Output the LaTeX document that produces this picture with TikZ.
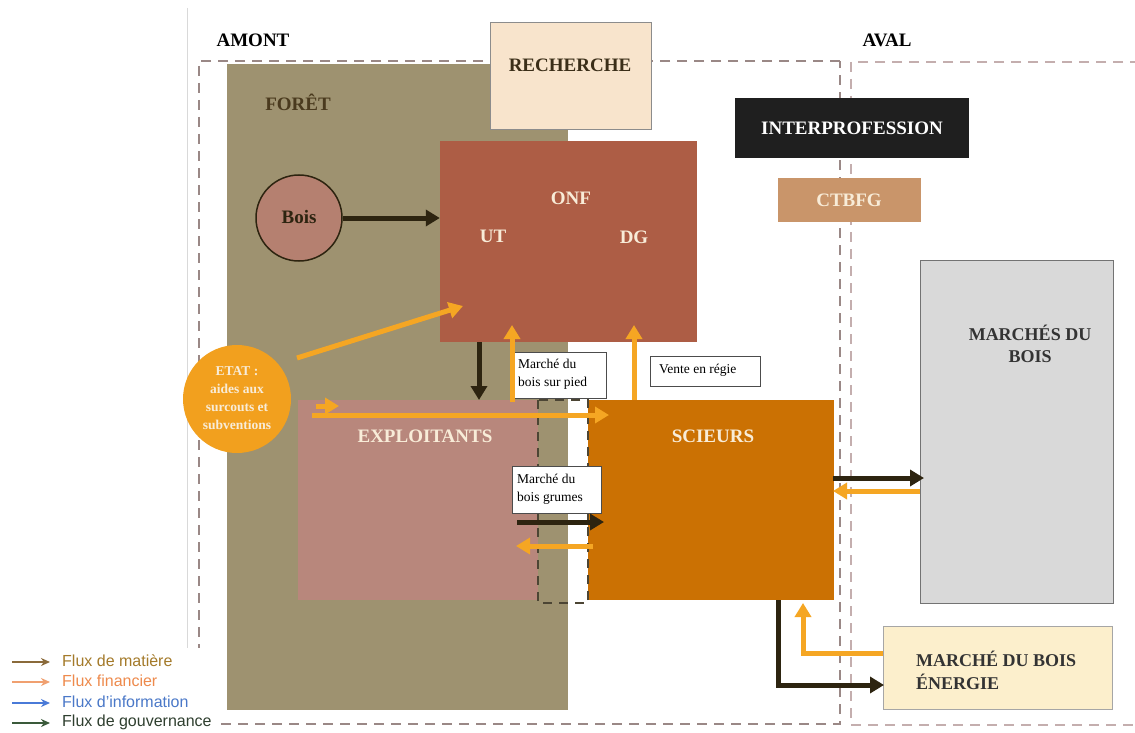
\documentclass[tikz,border=0pt]{standalone}
\usepackage{fontspec}
\setmainfont{Liberation Serif}
\newfontfamily\legfont{Liberation Sans}
\usetikzlibrary{arrows.meta}
\definecolor{foretc}{HTML}{9E9270}
\definecolor{onfc}{HTML}{AD5D45}
\definecolor{boisc}{HTML}{B58070}
\definecolor{rechc}{HTML}{F8E4CC}
\definecolor{interc}{HTML}{1F1F1F}
\definecolor{ctbc}{HTML}{C9956A}
\definecolor{marchec}{HTML}{D9D9D9}
\definecolor{explc}{HTML}{B8877C}
\definecolor{sciec}{HTML}{CB7103}
\definecolor{etatc}{HTML}{F2A01E}
\definecolor{energc}{HTML}{FCEFCC}
\definecolor{orangec}{HTML}{F5A623}
\definecolor{darkc}{HTML}{2D2410}
\definecolor{lighttxt}{HTML}{F8ECD8}
\definecolor{foretxt}{HTML}{4A3A1E}
\definecolor{amontd}{HTML}{9A8886}
\definecolor{avald}{HTML}{C4AEAE}
\definecolor{lega}{HTML}{8A6A3A}
\definecolor{legat}{HTML}{A47A2A}
\definecolor{legb}{HTML}{F0A070}
\definecolor{legbt}{HTML}{EE8A4C}
\definecolor{legc}{HTML}{4A7AD8}
\definecolor{legct}{HTML}{4A78C8}
\definecolor{legd}{HTML}{3A5A3A}
\definecolor{legdt}{HTML}{2F3F2F}
\begin{document}
\begin{tikzpicture}[x=1pt,y=-1pt,
  area/.style={rectangle,inner sep=0pt,draw=none},
  boxed/.style={rectangle,inner sep=0pt,draw=#1,line width=1pt},
  head/.style={font=\fontsize{19}{22}\selectfont\bfseries,inner sep=0pt},
  lighthead/.style={head,text=lighttxt},
  small/.style={font=\fontsize{13.5}{18}\selectfont,inner sep=0pt,align=left},
  darrow/.style={draw=darkc,line width=5pt,-{Triangle[length=14pt,width=16pt]}},
  oarrow/.style={draw=orangec,line width=5pt,-{Triangle[length=14pt,width=16pt]}},
  dashA/.style={draw=amontd,line width=2pt,dash pattern=on 10pt off 7pt},
  dashB/.style={draw=avald,line width=2pt,dash pattern=on 10pt off 7pt},
  legarrow/.style={line width=1.6pt,-{Stealth[length=9pt,width=8pt]}},
  legtext/.style={font=\legfont\fontsize{16}{18}\selectfont,inner sep=0pt,anchor=west}]
\useasboundingbox (0,0) rectangle (1135,733);
\fill[white] (0,0) rectangle (1135,733);
% faint left line
\draw[black!15,line width=1pt] (187,8) -- (187,650);
% dashed zones
\draw[dashA] (840,61) -- (199,61) -- (199,724) -- (840,724) -- cycle;
\draw[dashB] (1140,62) -- (851,62) -- (851,725) -- (1140,725);
\node[head] (amont) at (253,40) {AMONT};
\node[head] (aval) at (887,40) {AVAL};
% forest
\node[area,fill=foretc,minimum width=341pt,minimum height=646pt] (foret) at (397.5,387) {};
\node[head,text=foretxt] (foretlbl) at (298,102) {FORÊT};
% recherche
\node[boxed=black!45,fill=rechc,minimum width=161pt,minimum height=107pt] (rech) at (570.5,76.5) {};
\node[head,text=foretxt!80!black] (rechlbl) at (570,65) {RECHERCHE};
% ONF
\node[area,fill=onfc,minimum width=257pt,minimum height=201pt] (onf) at (568.5,241.5) {};
\node[lighthead] (onflbl) at (571,198) {ONF};
\node[lighthead] (ut) at (493,236) {UT};
\node[lighthead] (dg) at (634,237) {DG};
% Bois
\node[circle,draw=darkc,line width=1.5pt,fill=boisc,minimum size=86pt,inner sep=0pt] (bois) at (299,218) {};
\node[head,text=darkc] (boislbl) at (299,217) {Bois};
% interprofession, ctbfg
\node[area,fill=interc,minimum width=234pt,minimum height=60pt] (inter) at (852,128) {};
\node[lighthead,text=white] (interlbl) at (852,128) {INTERPROFESSION};
\node[area,fill=ctbc,minimum width=143pt,minimum height=44pt] (ctb) at (849.5,200) {};
\node[lighthead] (ctblbl) at (849,200) {CTBFG};
% marches du bois
\node[boxed=black!55,fill=marchec,minimum width=193pt,minimum height=343pt] (marches) at (1016.5,431.5) {};
\node[head,text=black!80,font=\fontsize{18}{22}\selectfont\bfseries,align=center] (marcheslbl) at (1030,344) {MARCHÉS DU\\BOIS};
% exploitants, scieurs
\node[area,fill=explc,minimum width=240pt,minimum height=200pt] (expl) at (418,500) {};
\node[lighthead] (expllbl) at (425,436) {EXPLOITANTS};
\node[area,fill=sciec,minimum width=246pt,minimum height=200pt] (scie) at (711,500) {};
\node[lighthead] (scielbl) at (713,436) {SCIEURS};
% dashed market strip
\draw[draw=darkc!85,line width=2pt,dash pattern=on 9pt off 7pt] (538,400) rectangle (588,603);
% energie
\node[boxed=black!35,fill=energc,minimum width=229pt,minimum height=83pt] (energ) at (997.5,667.5) {};
\node[head,text=black!80,anchor=west,align=left,font=\fontsize{18}{23}\selectfont\bfseries] (energlbl) at (916,670) {MARCHÉ DU BOIS\\ÉNERGIE};
% ETAT
\node[circle,fill=etatc,minimum size=108pt,inner sep=0pt] (etat) at (237,399) {};
\node[font=\fontsize{13.5}{18}\selectfont\bfseries,text=lighttxt,align=center,inner sep=0pt] (etatlbl) at (237,398) {ETAT :\\aides aux\\surcouts et\\subventions};
% label boxes
\node[boxed=black!70,fill=white,minimum width=92pt,minimum height=46pt] (surpied) at (560,375) {};
\node[small,anchor=west] (surpiedlbl) at (518,374) {Marché du\\bois sur pied};
\node[boxed=black!70,fill=white,minimum width=110pt,minimum height=30pt] (regie) at (705,371) {};
\node[small,anchor=west] (regielbl) at (659,370) {Vente en régie};
\node[boxed=black!70,fill=white,minimum width=89pt,minimum height=47pt] (grumes) at (556.5,490) {};
\node[small,anchor=west] (grumeslbl) at (517,489) {Marché du\\bois grumes};
% coordinates
\coordinate (e1s) at (297,358);
\coordinate (e1t) at (463,306);
\coordinate (e2s) at (316,406);
\coordinate (e2t) at (339,406);
\coordinate (e3s) at (312,415);
\coordinate (e3t) at (609,415);
\coordinate (pied) at (512,402);
\coordinate (piedt) at (512,325);
\coordinate (regs) at (634,400);
\coordinate (regt) at (634,325);
\coordinate (ox) at (479,342);
\coordinate (oxt) at (479,400);
\coordinate (g1s) at (517,522);
\coordinate (g1t) at (604,522);
\coordinate (g2s) at (593,546);
\coordinate (g2t) at (516,546);
\coordinate (m1s) at (833,478);
\coordinate (m1t) at (924,478);
\coordinate (m2s) at (920,491);
\coordinate (m2t) at (833,491);
\coordinate (en1) at (778,600);
\coordinate (en1c) at (778,685);
\coordinate (en1t) at (884,685);
\coordinate (en2) at (883,653);
\coordinate (en2c) at (803,653);
\coordinate (en2t) at (803,603);
% arrows
\draw[darrow] (bois) -- (bois -| onf.west);
\draw[oarrow] (e1s) -- (e1t);
\draw[oarrow] (e2s) -- (e2t);
\draw[oarrow] (e3s) -- (e3t);
\draw[darrow] (ox) -- (oxt);
\draw[oarrow] (pied) -- (piedt);
\draw[oarrow] (regs) -- (regt);
\draw[darrow] (g1s) -- (g1t);
\draw[oarrow] (g2s) -- (g2t);
\draw[darrow] (m1s) -- (m1t);
\draw[oarrow] (m2s) -- (m2t);
\draw[darrow] (en1) -- (en1c) -- (en1t);
\draw[oarrow] (en2) -- (en2c) -- (en2t);
% legend
\fill[white] (0,648) rectangle (221,733);
\coordinate (l1) at (12,662); \coordinate (l1e) at (50,662);
\coordinate (l2) at (12,682); \coordinate (l2e) at (50,682);
\coordinate (l3) at (12,703); \coordinate (l3e) at (50,703);
\coordinate (l4) at (12,723); \coordinate (l4e) at (50,723);
\draw[legarrow,draw=lega] (l1) -- (l1e);
\draw[legarrow,draw=legb] (l2) -- (l2e);
\draw[legarrow,draw=legc] (l3) -- (l3e);
\draw[legarrow,draw=legd] (l4) -- (l4e);
\node[legtext,text=legat] (t1) at (62,661) {Flux de matière};
\node[legtext,text=legbt] (t2) at (62,681) {Flux financier};
\node[legtext,text=legct] (t3) at (62,702) {Flux d’information};
\node[legtext,text=legdt] (t4) at (62,722) {Flux de gouvernance};
\end{tikzpicture}
\end{document}
